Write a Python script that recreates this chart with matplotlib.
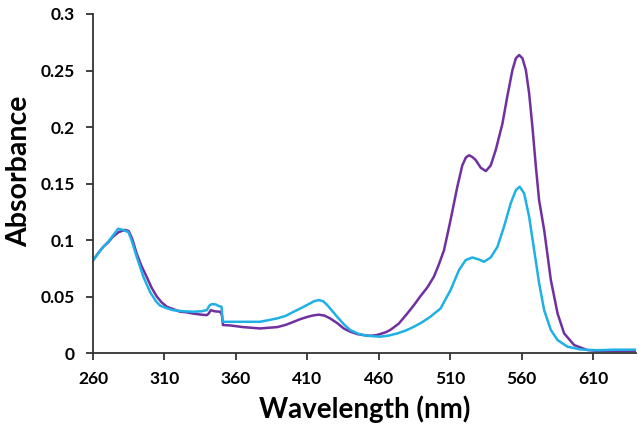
import matplotlib
matplotlib.use("Agg")
import matplotlib.pyplot as plt

# Wavelength (nm) and absorbance for the purple trace
wl_purple = [260, 264, 267.2, 270.7, 274, 278, 282.4, 285, 287.5, 290.6, 294, 297.6, 301, 304.7,
             308, 311.7, 316, 321, 326, 330, 336, 339.7, 341, 342.5, 345, 349, 350.2, 351, 356,
             365, 377, 389, 395, 400.5, 405, 410, 414, 418, 422, 426, 431, 435.5, 440, 445, 450,
             454, 458, 461, 465, 468, 474, 480, 485, 489, 494, 498.6, 502, 505.7, 510.3, 515,
             518.5, 521, 523.2, 525.5, 527.9, 531.4, 535, 538.4, 541.9, 546.6, 550, 553.6, 556,
             558.3, 560.6, 563, 565.3, 567.6, 570, 572.3, 575.8, 580.5, 585.2, 589.8, 596.8,
             606, 613, 625, 640]
abs_purple = [0.082, 0.089, 0.094, 0.098, 0.103, 0.107, 0.109, 0.108, 0.101, 0.088, 0.077, 0.0675,
              0.058, 0.050, 0.045, 0.041, 0.039, 0.0366, 0.036, 0.035, 0.034, 0.0336, 0.035, 0.038,
              0.037, 0.0366, 0.034, 0.0248, 0.0245, 0.023, 0.0218, 0.023, 0.025, 0.0277, 0.030,
              0.032, 0.0333, 0.034, 0.0332, 0.0307, 0.0265, 0.0218, 0.019, 0.0168, 0.0158, 0.0153,
              0.0158, 0.0168, 0.0185, 0.0204, 0.026, 0.035, 0.043, 0.050, 0.058, 0.0675, 0.078,
              0.091, 0.1177, 0.147, 0.166, 0.173, 0.175, 0.1735, 0.1708, 0.164, 0.161, 0.166,
              0.1796, 0.203, 0.227, 0.2504, 0.2608, 0.2637, 0.2608, 0.2504, 0.2297, 0.200, 0.165,
              0.135, 0.109, 0.0646, 0.035, 0.0174, 0.0071, 0.0027, 0.002, 0.002, 0.002]

# Wavelength (nm) and absorbance for the cyan trace
wl_cyan = [260, 263.5, 267.2, 270.7, 274, 277.7, 281, 284.8, 287, 290.6, 295.3, 300, 304, 307, 311,
           316, 323, 330, 336, 339.7, 341.5, 343, 346, 348, 350, 350.8, 352, 360, 377, 389, 395,
           400.5, 406, 412, 415, 418, 421, 424, 431, 436, 440, 446, 452, 461, 467, 473, 479,
           484.6, 490, 496, 503.3, 510.3, 516.2, 520.9, 525.5, 530.2, 533.7, 538.4, 543.1,
           547.7, 552.4, 556, 558.7, 561.8, 565.3, 568.8, 572.3, 575.8, 580.5, 585.2, 592.2,
           601.5, 613, 625, 640]
abs_cyan = [0.082, 0.088, 0.094, 0.0985, 0.104, 0.110, 0.109, 0.107, 0.100, 0.0853, 0.0675,
            0.054, 0.046, 0.042, 0.040, 0.038, 0.037, 0.0366, 0.037, 0.038, 0.042, 0.0433,
            0.043, 0.0416, 0.041, 0.0277, 0.0277, 0.0277, 0.0277, 0.0307, 0.033, 0.0366, 0.040,
            0.044, 0.046, 0.0469, 0.046, 0.0425, 0.032, 0.025, 0.0204, 0.017, 0.0153, 0.0145,
            0.0155, 0.0174, 0.020, 0.0233, 0.027, 0.032, 0.0395, 0.0558, 0.0735, 0.0823, 0.0846,
            0.0828, 0.0808, 0.0846, 0.094, 0.1118, 0.1325, 0.1442, 0.1472, 0.1413, 0.1206,
            0.0912, 0.0617, 0.038, 0.0204, 0.0115, 0.0056, 0.0032, 0.0025, 0.003, 0.003]

x_ticks = [260, 310, 360, 410, 460, 510, 560, 610]
y_ticks = [0, 0.05, 0.1, 0.15, 0.2, 0.25, 0.3]
y_tick_labels = ["0", "0.05", "0.1", "0.15", "0.2", "0.25", "0.3"]

plt.rcParams['font.family'] = ['Lato', 'DejaVu Sans']

fig = plt.figure(figsize=(6.41, 4.37), dpi=100)
ax = fig.add_axes([0.145, 0.192, 0.847, 0.776])

ax.plot(wl_purple, abs_purple, color='#7030A0', lw=1.8, solid_joinstyle='round')
ax.plot(wl_cyan, abs_cyan, color='#1FB0E6', lw=1.8, solid_joinstyle='round')

ax.set_xlim(260, 640)
ax.set_ylim(0, 0.3)
ax.set_xticks(x_ticks)
ax.set_xticklabels([str(t) for t in x_ticks])
ax.set_yticks(y_ticks)
ax.set_yticklabels(y_tick_labels)

for s in ['top', 'right']:
    ax.spines[s].set_visible(False)
for s in ['left', 'bottom']:
    ax.spines[s].set_linewidth(1.3)
    ax.spines[s].set_color('#333333')

ax.tick_params(axis='both', direction='out', length=5, width=1.3, color='#333333',
               labelsize=12.5, pad=8)
for lbl in ax.get_xticklabels() + ax.get_yticklabels():
    lbl.set_fontweight('bold')

ax.set_xlabel('Wavelength (nm)', fontsize=20, fontweight='bold', labelpad=6)
ax.set_ylabel('Absorbance', fontsize=20.5, fontweight='bold')
ax.yaxis.set_label_coords(-0.112, 0.535)

fig.savefig('out.png', dpi=100)
